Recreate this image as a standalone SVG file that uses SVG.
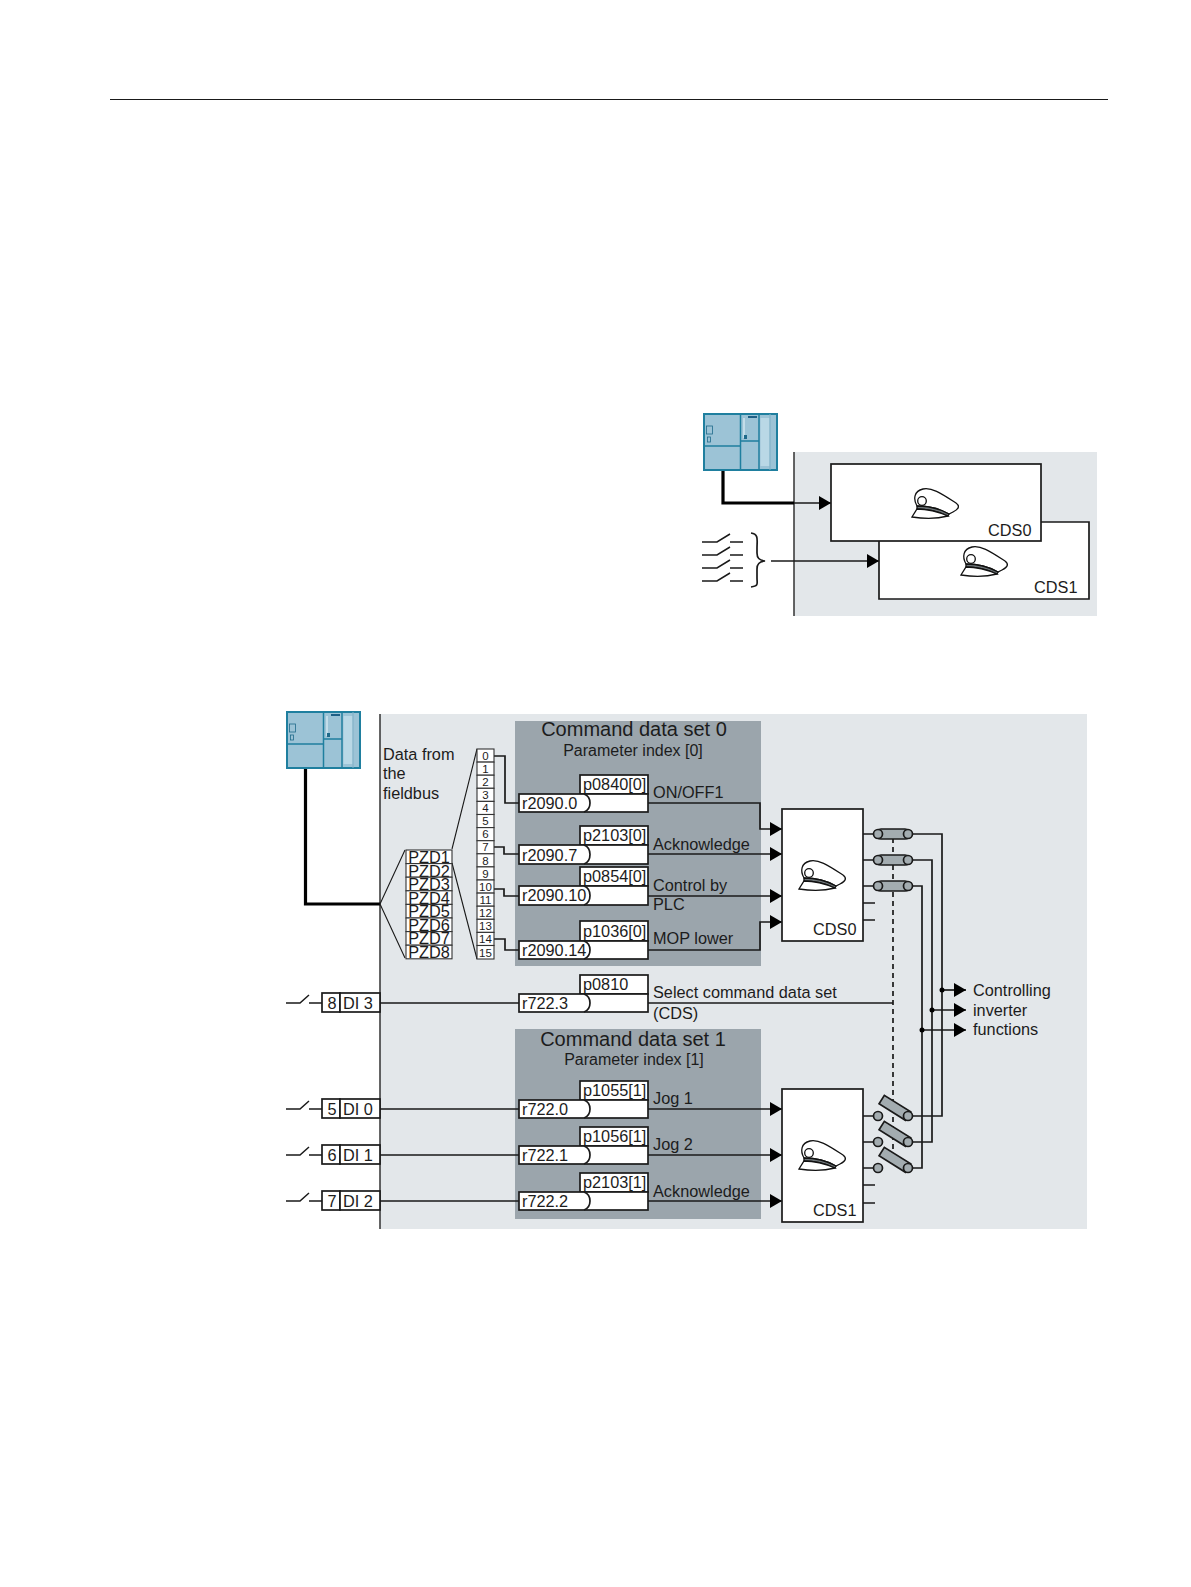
<svg xmlns="http://www.w3.org/2000/svg" xmlns:xlink="http://www.w3.org/1999/xlink" width="1191" height="1587" viewBox="0 0 1191 1587">
<style>
text{font-family:"Liberation Sans",Arial,sans-serif;font-size:16.3px;fill:#1c1c1c}
.title{font-size:20px;text-anchor:middle}
.sub{font-size:16px;text-anchor:middle}
.num{font-size:11.5px;text-anchor:middle}
.mid{text-anchor:middle}
.box{fill:#fff;stroke:#1a1a1a;stroke-width:1.7}
.thin{fill:#fff;stroke:#333;stroke-width:1.1}
.ln{fill:none;stroke:#1a1a1a;stroke-width:1.7}
.lna{fill:none;stroke:#1a1a1a;stroke-width:1.7;marker-end:url(#arr)}
.thick{fill:none;stroke:#000;stroke-width:3.2}
.bg{fill:#e3e7ea}
.panel{fill:#9ba5ac}
.roller{fill:#a3acb0;stroke:#1a1a1a;stroke-width:1.7}
.pin{fill:#a3acb0;stroke:#1a1a1a;stroke-width:1.7}
</style>
<defs>
<marker id="arr" markerUnits="userSpaceOnUse" markerWidth="13" markerHeight="15" refX="12" refY="7.500" orient="auto"><path d="M0 0.500L12 7.500L0 14.500Z" fill="#000"/></marker>
<symbol id="hat" width="48" height="31" viewBox="0 0 48 31" overflow="visible">
<g fill="#fff" stroke="#111" stroke-width="1.300">
<path d="M5 18C1 11 2 3 11 1C20-1 30 6 44 15C48 18 47 21 41 24L37 26C28 21 15 18 5 18Z"/>
<path d="M5 18C15 18 28 21 37 26L36 28C27 24 15 21 5 21Z" fill="#6d7477"/>
<path d="M5 21C15 21 27 24 36 28C25 31 12 31 0 29Z"/>
<circle cx="10" cy="13" r="4.300"/>
</g>
</symbol>
<symbol id="plc" width="75" height="58" viewBox="0 0 75 58">
<rect x="1" y="1" width="73" height="56" fill="#9cc3d6" stroke="#1f7f9f" stroke-width="2"/>
<path d="M37.500 1V57M56 1V57M1 33H37.500M37.500 28H56" fill="none" stroke="#1f7f9f" stroke-width="1.500"/>
<rect x="57.500" y="5" width="9" height="48" fill="#b9d8e6"/>
<path d="M67 1V57" stroke="#7fb0c6" stroke-width="1"/>
<rect x="3.500" y="13" width="6" height="8" fill="none" stroke="#1f6a8a" stroke-width="0.800"/>
<rect x="4.500" y="24" width="3" height="5" fill="none" stroke="#1f6a8a" stroke-width="0.800"/>
<rect x="45" y="3" width="9" height="2" fill="#1f5f85"/>
<rect x="40" y="5" width="2" height="20" fill="#c3dde9"/>
<rect x="41" y="22" width="3" height="4" fill="#1f6a8a"/>
</symbol>
<symbol id="sw" width="44" height="12" viewBox="0 0 44 12" overflow="visible">
<path d="M0 9H14L23 1M23 9H37" fill="none" stroke="#1a1a1a" stroke-width="1.500"/>
</symbol>
<symbol id="swt" width="44" height="12" viewBox="0 0 44 12" overflow="visible">
<path d="M0 9H15L28 1M28 9H41" fill="none" stroke="#1a1a1a" stroke-width="1.500"/>
</symbol>
</defs>
<rect width="1191" height="1587" fill="#fff"/>
<path d="M110 99.500H1108" stroke="#1a1a1a" stroke-width="1.200"/>

<g id="backgrounds">
<rect class="bg" x="794" y="452" width="303" height="164"/>
<rect class="bg" x="380" y="714" width="707" height="515"/>
<rect class="panel" x="515" y="721" width="246" height="245"/>
<rect class="panel" x="515" y="1029" width="246" height="190"/>
<path d="M794 452V616M380 714V1229" stroke="#333" stroke-width="1.500" fill="none"/>
</g>

<g id="connectors">
<path class="thick" d="M723 471V503H794"/>
<path class="lna" d="M794 503H831"/>
<path class="lna" d="M771 561H879"/>
<path class="thick" d="M305.500 768V904H380"/>
<path class="ln" style="stroke-width:1.100" d="M405 850L380 904L405 958M452 849L477 749M452 863L477 959"/>
<path class="ln" d="M494 756H505V803H519M494 847H504V854H519M494 889H504V896H519M494 939H505V950H519"/>
<path class="lna" d="M648 803H760V829H782"/>
<path class="lna" d="M648 854H782"/>
<path class="lna" d="M648 896H782"/>
<path class="lna" d="M648 950H760V922H782"/>
<path class="ln" d="M380 1003H519M380 1109H519M380 1155H519M380 1201H519"/>
<path class="ln" d="M648 1003H893"/>
<path class="lna" d="M648 1109H782"/>
<path class="lna" d="M648 1155H782"/>
<path class="lna" d="M648 1201H782"/>
<path class="ln" style="stroke-dasharray:5 4" d="M893 838V1153"/>
<path class="ln" d="M863 834H878M908 834H942V1116H908M863 860H878M908 860H932V1142H908M863 886H878M908 886H922V1168H908"/>
<path class="ln" style="stroke-width:1.300" d="M863 903H875M863 920H875M863 1185H875M863 1203H875"/>
<path class="ln" d="M863 1116H878M863 1142H878M863 1168H878"/>
<path class="lna" d="M942 990H966"/>
<path class="lna" d="M932 1010H966"/>
<path class="lna" d="M922 1030H966"/>
<circle cx="942" cy="990" r="2.500" fill="#000"/>
<circle cx="932" cy="1010" r="2.500" fill="#000"/>
<circle cx="922" cy="1030" r="2.500" fill="#000"/>
</g>

<g id="plc-top"><use href="#plc" x="703" y="413"/></g>
<g id="switches-top">
<use href="#swt" x="702" y="533"/><use href="#swt" x="702" y="546"/><use href="#swt" x="702" y="559"/><use href="#swt" x="702" y="572"/>
<path class="ln" d="M751 533C759 534 757 540 757 548V553C757 558 759 560 765 561C759 562 757 564 757 569V578C757 584 759 586 751 587"/>
</g>
<g id="cds1-top"><path class="box" d="M1041 522H1089V599H879V541"/><use href="#hat" x="961" y="546"/><text x="1034" y="593">CDS1</text></g>
<g id="cds0-top"><rect class="box" x="831" y="464" width="210" height="77"/><use href="#hat" x="912" y="488"/><text x="988" y="536">CDS0</text></g>

<g id="plc-bottom"><use href="#plc" x="286" y="711"/></g>
<g id="fieldbus-label"><text x="383" y="760">Data from</text><text x="383" y="779">the</text><text x="383" y="799">fieldbus</text></g>
<g id="pzd">
<rect class="thin" x="406" y="850" width="46" height="13.600"/><text class="mid" x="429" y="863">PZD1</text>
<rect class="thin" x="406" y="863.600" width="46" height="13.600"/><text class="mid" x="429" y="876.500">PZD2</text>
<rect class="thin" x="406" y="877.200" width="46" height="13.600"/><text class="mid" x="429" y="890">PZD3</text>
<rect class="thin" x="406" y="890.800" width="46" height="13.600"/><text class="mid" x="429" y="903.500">PZD4</text>
<rect class="thin" x="406" y="904.400" width="46" height="13.600"/><text class="mid" x="429" y="917">PZD5</text>
<rect class="thin" x="406" y="918" width="46" height="13.600"/><text class="mid" x="429" y="930.500">PZD6</text>
<rect class="thin" x="406" y="931.600" width="46" height="13.600"/><text class="mid" x="429" y="944">PZD7</text>
<rect class="thin" x="406" y="945.200" width="46" height="13.600"/><text class="mid" x="429" y="958">PZD8</text>
</g>
<g id="bits">
<rect class="thin" x="477" y="749" width="17" height="13.100"/><text class="num" x="485.500" y="760">0</text>
<rect class="thin" x="477" y="762.100" width="17" height="13.100"/><text class="num" x="485.500" y="773">1</text>
<rect class="thin" x="477" y="775.200" width="17" height="13.100"/><text class="num" x="485.500" y="786">2</text>
<rect class="thin" x="477" y="788.300" width="17" height="13.100"/><text class="num" x="485.500" y="799">3</text>
<rect class="thin" x="477" y="801.400" width="17" height="13.100"/><text class="num" x="485.500" y="812">4</text>
<rect class="thin" x="477" y="814.500" width="17" height="13.100"/><text class="num" x="485.500" y="825">5</text>
<rect class="thin" x="477" y="827.600" width="17" height="13.100"/><text class="num" x="485.500" y="838">6</text>
<rect class="thin" x="477" y="840.700" width="17" height="13.100"/><text class="num" x="485.500" y="851">7</text>
<rect class="thin" x="477" y="853.800" width="17" height="13.100"/><text class="num" x="485.500" y="865">8</text>
<rect class="thin" x="477" y="866.900" width="17" height="13.100"/><text class="num" x="485.500" y="878">9</text>
<rect class="thin" x="477" y="880" width="17" height="13.100"/><text class="num" x="485.500" y="891">10</text>
<rect class="thin" x="477" y="893.100" width="17" height="13.100"/><text class="num" x="485.500" y="904">11</text>
<rect class="thin" x="477" y="906.200" width="17" height="13.100"/><text class="num" x="485.500" y="917">12</text>
<rect class="thin" x="477" y="919.300" width="17" height="13.100"/><text class="num" x="485.500" y="930">13</text>
<rect class="thin" x="477" y="932.400" width="17" height="13.100"/><text class="num" x="485.500" y="943">14</text>
<rect class="thin" x="477" y="945.500" width="17" height="13.500"/><text class="num" x="485.500" y="957">15</text>
</g>

<g id="cds0-panel-title"><text class="title" x="634" y="736">Command data set 0</text><text class="sub" x="633" y="756">Parameter index [0]</text></g>
<g id="block-p0840"><rect class="box" x="580" y="775" width="68" height="19"/><rect class="box" x="519" y="794" width="129" height="18"/><path class="ln" d="M584 794C592 797 592 809 584 812"/><text x="583" y="790">p0840[0]</text><text x="522" y="809">r2090.0</text><text x="653" y="798">ON/OFF1</text></g>
<g id="block-p2103-0"><rect class="box" x="580" y="826" width="68" height="19"/><rect class="box" x="519" y="845" width="129" height="19"/><path class="ln" d="M584 845C592 848 592 861 584 864"/><text x="583" y="841">p2103[0]</text><text x="522" y="861">r2090.7</text><text x="653" y="850">Acknowledge</text></g>
<g id="block-p0854"><rect class="box" x="580" y="867" width="68" height="19"/><rect class="box" x="519" y="886" width="129" height="19"/><path class="ln" d="M584 886C592 889 592 902 584 905"/><text x="583" y="882">p0854[0]</text><text x="522" y="901">r2090.10</text><text x="653" y="891">Control by</text><text x="653" y="910">PLC</text></g>
<g id="block-p1036"><rect class="box" x="580" y="921" width="68" height="20"/><rect class="box" x="519" y="941" width="129" height="18"/><path class="ln" d="M584 941C592 944 592 956 584 959"/><text x="583" y="937">p1036[0]</text><text x="522" y="956">r2090.14</text><text x="653" y="944">MOP lower</text></g>

<g id="block-p0810"><rect class="box" x="580" y="975" width="68" height="19"/><rect class="box" x="519" y="994" width="129" height="18"/><path class="ln" d="M584 994C592 997 592 1009 584 1012"/><text x="583" y="990">p0810</text><text x="522" y="1009">r722.3</text><text x="653" y="998">Select command data set</text><text x="653" y="1019">(CDS)</text></g>

<g id="cds1-panel-title"><text class="title" x="633" y="1046">Command data set 1</text><text class="sub" x="634" y="1065">Parameter index [1]</text></g>
<g id="block-p1055"><rect class="box" x="580" y="1081" width="68" height="19"/><rect class="box" x="519" y="1100" width="129" height="18"/><path class="ln" d="M584 1100C592 1103 592 1115 584 1118"/><text x="583" y="1096">p1055[1]</text><text x="522" y="1115">r722.0</text><text x="653" y="1104">Jog 1</text></g>
<g id="block-p1056"><rect class="box" x="580" y="1127" width="68" height="19"/><rect class="box" x="519" y="1146" width="129" height="18"/><path class="ln" d="M584 1146C592 1149 592 1161 584 1164"/><text x="583" y="1142">p1056[1]</text><text x="522" y="1161">r722.1</text><text x="653" y="1150">Jog 2</text></g>
<g id="block-p2103-1"><rect class="box" x="580" y="1173" width="68" height="19"/><rect class="box" x="519" y="1192" width="129" height="18"/><path class="ln" d="M584 1192C592 1195 592 1207 584 1210"/><text x="583" y="1188">p2103[1]</text><text x="522" y="1207">r722.2</text><text x="653" y="1197">Acknowledge</text></g>

<g id="di3"><use href="#sw" x="286" y="994"/><rect class="box" x="322" y="993" width="18" height="19"/><rect class="box" x="340" y="993" width="40" height="19"/><text class="mid" x="332" y="1009">8</text><text x="343" y="1009">DI 3</text></g>
<g id="di0"><use href="#sw" x="286" y="1100"/><rect class="box" x="322" y="1099" width="18" height="19"/><rect class="box" x="340" y="1099" width="40" height="19"/><text class="mid" x="332" y="1115">5</text><text x="343" y="1115">DI 0</text></g>
<g id="di1"><use href="#sw" x="286" y="1146"/><rect class="box" x="322" y="1145" width="18" height="19"/><rect class="box" x="340" y="1145" width="40" height="19"/><text class="mid" x="332" y="1161">6</text><text x="343" y="1161">DI 1</text></g>
<g id="di2"><use href="#sw" x="286" y="1192"/><rect class="box" x="322" y="1191" width="18" height="19"/><rect class="box" x="340" y="1191" width="40" height="19"/><text class="mid" x="332" y="1207">7</text><text x="343" y="1207">DI 2</text></g>

<g id="cds0"><rect class="box" x="782" y="809" width="81" height="132"/><use href="#hat" x="799" y="860"/><text x="813" y="935">CDS0</text></g>
<g id="cds1"><rect class="box" x="782" y="1089" width="81" height="133"/><use href="#hat" x="799" y="1140"/><text x="813" y="1216">CDS1</text></g>

<g id="switches-cds0">
<rect class="roller" x="876" y="829" width="34" height="10" rx="5"/><circle class="pin" cx="878" cy="834" r="4.500"/><circle class="pin" cx="908" cy="834" r="4.500"/>
<rect class="roller" x="876" y="855" width="34" height="10" rx="5"/><circle class="pin" cx="878" cy="860" r="4.500"/><circle class="pin" cx="908" cy="860" r="4.500"/>
<rect class="roller" x="876" y="881" width="34" height="10" rx="5"/><circle class="pin" cx="878" cy="886" r="4.500"/><circle class="pin" cx="908" cy="886" r="4.500"/>
</g>
<g id="switches-cds1">
<rect class="roller" x="877" y="1111" width="31" height="10" transform="rotate(32 908 1116)"/><circle class="pin" cx="878" cy="1116" r="4.500"/><circle class="pin" cx="908" cy="1116" r="4.500"/>
<rect class="roller" x="877" y="1137" width="31" height="10" transform="rotate(32 908 1142)"/><circle class="pin" cx="878" cy="1142" r="4.500"/><circle class="pin" cx="908" cy="1142" r="4.500"/>
<rect class="roller" x="877" y="1163" width="31" height="10" transform="rotate(32 908 1168)"/><circle class="pin" cx="878" cy="1168" r="4.500"/><circle class="pin" cx="908" cy="1168" r="4.500"/>
</g>
<g id="outputs-label"><text x="973" y="996">Controlling</text><text x="973" y="1016">inverter</text><text x="973" y="1035">functions</text></g>
</svg>
